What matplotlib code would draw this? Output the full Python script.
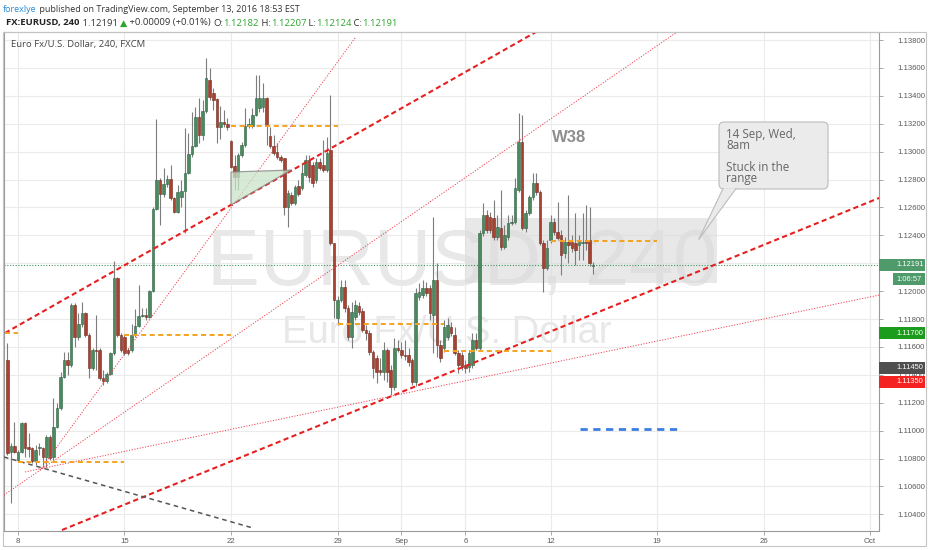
import matplotlib
matplotlib.use('Agg')
import matplotlib.pyplot as plt
from matplotlib.patches import Rectangle, Polygon, FancyBboxPatch
from matplotlib import transforms
import numpy as np

plt.rcParams['font.family'] = ['Open Sans', 'DejaVu Sans']

# ---------------- data (EURUSD 4h candles, Aug 8 - Sep 13 2016) ----------------
open_ = [1.11507, 1.10847, 1.10890, 1.10790, 1.10847, 1.11055, 1.10883, 1.10876, 1.10783, 1.10876,
         1.10876, 1.10811, 1.10955, 1.10811, 1.11026, 1.11162, 1.11385, 1.11507, 1.11471, 1.11901,
         1.11671, 1.11765, 1.11843, 1.11686, 1.11449, 1.11578, 1.11578, 1.11377, 1.11356, 1.11406,
         1.11557, 1.12094, 1.11686, 1.11671, 1.11578, 1.11578, 1.11686, 1.11750, 1.11822, 1.11829,
         1.11815, 1.12001, 1.12589, 1.12797, 1.12696, 1.12768, 1.12804, 1.12668, 1.12567, 1.12675,
         1.12718, 1.12847, 1.12983, 1.13040, 1.13248, 1.13119, 1.13291, 1.13514, 1.13420, 1.13377,
         1.13177, 1.13213, 1.13198, 1.13076, 1.12897, 1.12818, 1.12976, 1.13048, 1.13184, 1.13184,
         1.13263, 1.13313, 1.13320, 1.13385, 1.13112, 1.13040, 1.12998, 1.12962, 1.12954, 1.12603,
         1.12689, 1.12632, 1.12754, 1.12739, 1.12833, 1.12940, 1.12904, 1.12797, 1.12926, 1.12904,
         1.12868, 1.13011, 1.12345, 1.11808, 1.11937, 1.12030, 1.11879, 1.11671, 1.11815, 1.11894,
         1.11858, 1.11722, 1.11700, 1.11564, 1.11521, 1.11435, 1.11420, 1.11578, 1.11435, 1.11313,
         1.11592, 1.11578, 1.11542, 1.11542, 1.11507, 1.11349, 1.11958, 1.11972, 1.12023, 1.12023,
         1.11829, 1.12080, 1.11614, 1.11592, 1.11671, 1.11743, 1.11686, 1.11557, 1.11542, 1.11471,
         1.11456, 1.11471, 1.11650, 1.11592, 1.12417, 1.12546, 1.12532, 1.12524, 1.12388, 1.12453,
         1.12316, 1.12388, 1.12489, 1.12496, 1.12725, 1.13069, 1.12453, 1.12560, 1.12675, 1.12775,
         1.12711, 1.12345, 1.12166, 1.12367, 1.12496, 1.12424, 1.12403, 1.12274, 1.12352, 1.12352,
         1.12345, 1.12331, 1.12345, 1.12367, 1.12367, 1.12182]
high_ = [1.11628, 1.10912, 1.11062, 1.10861, 1.11062, 1.11062, 1.10983, 1.10883, 1.10897, 1.10912,
         1.10883, 1.10969, 1.10969, 1.11234, 1.11198, 1.11420, 1.11564, 1.11564, 1.11915, 1.11915,
         1.11843, 1.11922, 1.11851, 1.11700, 1.11592, 1.11829, 1.11592, 1.11435, 1.11420, 1.11564,
         1.12216, 1.12101, 1.11700, 1.11686, 1.11592, 1.11765, 1.11872, 1.12044, 1.11879, 1.11879,
         1.12008, 1.12603, 1.13234, 1.12811, 1.12883, 1.12833, 1.12904, 1.12675, 1.12761, 1.12797,
         1.13170, 1.13134, 1.13284, 1.13320, 1.13385, 1.13370, 1.13671, 1.13600, 1.13456, 1.13385,
         1.13327, 1.13299, 1.13241, 1.13084, 1.12976, 1.12990, 1.13069, 1.13313, 1.13241, 1.13313,
         1.13549, 1.13549, 1.13492, 1.13392, 1.13177, 1.13119, 1.13062, 1.12976, 1.12954, 1.12725,
         1.12711, 1.12761, 1.12797, 1.12919, 1.12976, 1.12976, 1.12926, 1.12954, 1.12954, 1.13084,
         1.13105, 1.13406, 1.12345, 1.11965, 1.12080, 1.12080, 1.11901, 1.11922, 1.11937, 1.11922,
         1.11879, 1.11757, 1.11722, 1.11578, 1.11542, 1.11521, 1.11635, 1.11592, 1.11471, 1.11664,
         1.11650, 1.11635, 1.11650, 1.11592, 1.11521, 1.12023, 1.12059, 1.12080, 1.12066, 1.12044,
         1.12532, 1.12202, 1.11650, 1.11793, 1.11808, 1.11779, 1.11743, 1.11578, 1.11564, 1.11507,
         1.11578, 1.11700, 1.11700, 1.12438, 1.12632, 1.12582, 1.12567, 1.12653, 1.12546, 1.12725,
         1.12474, 1.12546, 1.12546, 1.12811, 1.13277, 1.13263, 1.12582, 1.12689, 1.12847, 1.12847,
         1.12725, 1.12367, 1.12367, 1.12546, 1.12524, 1.12639, 1.12438, 1.12388, 1.12689, 1.12403,
         1.12560, 1.12403, 1.12560, 1.12618, 1.12603, 1.12207]
low_ = [1.10826, 1.10482, 1.10840, 1.10775, 1.10840, 1.10811, 1.10811, 1.10768, 1.10754, 1.10826,
        1.10740, 1.10740, 1.10790, 1.10790, 1.11019, 1.11148, 1.11377, 1.11399, 1.11456, 1.11600,
        1.11650, 1.11743, 1.11671, 1.11377, 1.11435, 1.11435, 1.11363, 1.11327, 1.11342, 1.11399,
        1.11542, 1.11671, 1.11564, 1.11542, 1.11542, 1.11564, 1.11671, 1.11743, 1.11815, 1.11793,
        1.11808, 1.11994, 1.12582, 1.12474, 1.12675, 1.12747, 1.12653, 1.12560, 1.12560, 1.12603,
        1.12417, 1.12840, 1.12962, 1.13033, 1.13062, 1.13084, 1.13277, 1.13370, 1.13299, 1.13062,
        1.13091, 1.13177, 1.13155, 1.12883, 1.12725, 1.12725, 1.12962, 1.13033, 1.13170, 1.13170,
        1.13256, 1.13284, 1.13284, 1.13048, 1.13026, 1.12976, 1.12947, 1.12926, 1.12546, 1.12460,
        1.12618, 1.12618, 1.12682, 1.12725, 1.12818, 1.12782, 1.12747, 1.12775, 1.12868, 1.12854,
        1.12854, 1.12331, 1.11808, 1.11757, 1.11922, 1.11851, 1.11650, 1.11592, 1.11793, 1.11829,
        1.11707, 1.11650, 1.11542, 1.11377, 1.11342, 1.11399, 1.11363, 1.11349, 1.11256, 1.11291,
        1.11564, 1.11521, 1.11507, 1.11464, 1.11327, 1.11320, 1.11937, 1.11951, 1.11965, 1.11793,
        1.11557, 1.11528, 1.11492, 1.11564, 1.11650, 1.11679, 1.11542, 1.11413, 1.11435, 1.11413,
        1.11420, 1.11449, 1.11578, 1.11578, 1.12395, 1.12417, 1.12417, 1.12367, 1.12367, 1.12295,
        1.12302, 1.12367, 1.12474, 1.12481, 1.12711, 1.12438, 1.12424, 1.12546, 1.12653, 1.12689,
        1.12331, 1.11994, 1.12152, 1.12345, 1.12403, 1.12367, 1.12116, 1.12238, 1.12202, 1.12281,
        1.12187, 1.12223, 1.12223, 1.12295, 1.12180, 1.12124]
close_ = [1.10840, 1.10890, 1.10847, 1.10847, 1.11055, 1.10876, 1.10869, 1.10783, 1.10861, 1.10878,
          1.10811, 1.10955, 1.10804, 1.11026, 1.11162, 1.11385, 1.11507, 1.11471, 1.11901, 1.11671,
          1.11765, 1.11843, 1.11686, 1.11449, 1.11578, 1.11571, 1.11377, 1.11356, 1.11406, 1.11557,
          1.12094, 1.11686, 1.11578, 1.11557, 1.11557, 1.11686, 1.11750, 1.11822, 1.11829, 1.11815,
          1.12001, 1.12589, 1.12797, 1.12696, 1.12768, 1.12804, 1.12668, 1.12567, 1.12711, 1.12718,
          1.12847, 1.12983, 1.13040, 1.13248, 1.13119, 1.13291, 1.13528, 1.13392, 1.13370, 1.13177,
          1.13213, 1.13198, 1.13177, 1.12890, 1.12818, 1.12976, 1.13048, 1.13184, 1.13198, 1.13263,
          1.13385, 1.13385, 1.13385, 1.13184, 1.13040, 1.12990, 1.12962, 1.12940, 1.12603, 1.12704,
          1.12632, 1.12747, 1.12696, 1.12847, 1.12940, 1.12818, 1.12775, 1.12926, 1.12883, 1.12868,
          1.12990, 1.12345, 1.11937, 1.11937, 1.12030, 1.11879, 1.11671, 1.11851, 1.11901, 1.11851,
          1.11722, 1.11700, 1.11564, 1.11449, 1.11420, 1.11420, 1.11578, 1.11420, 1.11313, 1.11592,
          1.11578, 1.11542, 1.11535, 1.11492, 1.11349, 1.11987, 1.11994, 1.12023, 1.11987, 1.11843,
          1.12080, 1.11614, 1.11521, 1.11743, 1.11757, 1.11700, 1.11557, 1.11471, 1.11456, 1.11449,
          1.11557, 1.11650, 1.11592, 1.12417, 1.12546, 1.12438, 1.12438, 1.12388, 1.12460, 1.12316,
          1.12403, 1.12489, 1.12496, 1.12739, 1.13069, 1.12453, 1.12560, 1.12675, 1.12775, 1.12711,
          1.12345, 1.12166, 1.12309, 1.12496, 1.12424, 1.12381, 1.12259, 1.12352, 1.12331, 1.12309,
          1.12295, 1.12352, 1.12352, 1.12345, 1.12202, 1.12191]

bars_per_day = 6
first_day_bar = 3            # bar index of Monday Aug 8 session start
tick_days = [0, 5, 10, 15, 18, 21, 25, 30, 35, 40]    # trading-day offsets
tick_labels = ['8', '15', '22', '29', 'Sep', '6', '12', '19', '26', 'Oct']
price_ticks = [1.104, 1.106, 1.108, 1.110, 1.112, 1.114, 1.116, 1.118, 1.120,
               1.122, 1.124, 1.126, 1.128, 1.130, 1.132, 1.134, 1.136, 1.138]

# drawings: (bar, price) endpoints
trend_upper = [(-0.65, 1.11700), (160.0, 1.14018)]
trend_lower = [(15.41, 1.10288), (245.55, 1.12668)]
fan_steep = [(9.21, 1.10718), (97.94, 1.13815)]
fan_mid = [(-0.93, 1.10539), (200.0, 1.14057)]
fan_low = [(4.99, 1.10704), (245.55, 1.11972)]
down_line = [(-0.93, 1.10811), (69.2, 1.10302)]
# weekly levels: (start trading day, end trading day, price)
weekly_levels = [(-0.61, 0, 1.11700), (0, 5, 1.10775), (5, 10, 1.11686), (10, 15, 1.13184),
                 (15, 20, 1.11765), (20, 25, 1.11571), (25, 30, 1.12360)]
target_level = (26.4, 31.1, 1.11010)
triangle = [(63.0, 1.12854), (79.9, 1.12868), (63.0, 1.12618)]
range_box = (128.9, 199.9, 1.12058, 1.12524)
last_price = 1.12191
countdown = '1:06:57'
badges = [(1.11700, '#1c9c1c'), (1.11450, '#4f4f4f'), (1.11350, '#f52222')]

# ---------------- figure ----------------
W, H = 932, 550
fig = plt.figure(figsize=(W / 100, H / 100), dpi=100)
fig.patch.set_facecolor('white')
T = transforms.Affine2D().scale(1 / W, -1 / H).translate(0, 1) + fig.transFigure

L, R, TOP, BOT = 4, 879, 32, 531
ax = fig.add_axes([L / W, (H - BOT) / H, (R - L) / W, (BOT - TOP) / H])
ax.set_facecolor('white')
ax.set_xlim(-0.93, 245.5)
ax.set_ylim(1.102808, 1.138576)

xt = [first_day_bar + bars_per_day * d for d in tick_days]
ax.set_xticks(xt)
ax.set_xticklabels(tick_labels)
ax.set_yticks(price_ticks)
# the tick label hidden behind the last-price badge is left empty
ax.set_yticklabels(['' if abs(p - last_price) < 0.0004 else '%.5f' % p for p in price_ticks])
ax.yaxis.tick_right()
ax.tick_params(axis='both', length=3, width=0.6, color='#9a9a9a', labelsize=5.6,
               labelcolor='#5a5a5a', pad=2)
ax.tick_params(axis='y', pad=10.5)
for lab in ax.get_xticklabels() + ax.get_yticklabels():
    lab.set_family(['Liberation Sans', 'DejaVu Sans'])
ax.grid(True, color='#ebebeb', lw=0.8, zorder=0)
ax.set_axisbelow(True)
for s in ax.spines.values():
    s.set_color('#9a9a9a')
    s.set_linewidth(0.8)

# watermark
ax.text(462, 285, 'EURUSD, 240', transform=T, ha='center', va='baseline', fontsize=57,
        color='#e8e8e8', family=['Liberation Sans'], zorder=0.6)
ax.text(447, 343, 'Euro Fx/U.S. Dollar', transform=T, ha='center', va='baseline', fontsize=27.5,
        color='#e8e8e8', family=['Liberation Sans'], zorder=0.6)

# grey range rectangle
ax.add_patch(Rectangle((range_box[0], range_box[2]), range_box[1] - range_box[0],
                       range_box[3] - range_box[2], facecolor='#d9d9d9', alpha=0.6,
                       edgecolor='none', zorder=1))

# candles
o = np.array(open_); h = np.array(high_); lo = np.array(low_); c = np.array(close_)
x = np.arange(len(o))
up = c >= o
ax.vlines(x, lo, h, color='#7d7d7d', lw=0.8, zorder=3)
body_bot = np.minimum(o, c)
body_h = np.maximum(np.abs(c - o), 0.00006)
ax.bar(x[up], body_h[up], bottom=body_bot[up], width=0.72, color='#4b8a5e',
       edgecolor='#2f6242', lw=0.4, zorder=3.5)
ax.bar(x[~up], body_h[~up], bottom=body_bot[~up], width=0.72, color='#a8412f',
       edgecolor='#702a1f', lw=0.4, zorder=3.5)

# last price line
ax.axhline(last_price, color='#3f9a5f', lw=0.8, ls=(0, (1, 1.5)), zorder=2)

# drawings
def seg(pts, **kw):
    ax.plot([pts[0][0], pts[1][0]], [pts[0][1], pts[1][1]], **kw)

seg(trend_upper, color='#e62020', lw=1.5, ls=(0, (2.5, 1.6)), zorder=4)
seg(trend_lower, color='#e62020', lw=1.5, ls=(0, (2.5, 1.6)), zorder=4)
for p in (fan_steep, fan_mid, fan_low):
    seg(p, color='#ee4050', lw=0.7, ls=(0, (1.2, 1.6)), zorder=4)
seg(down_line, color='#555555', lw=1.1, ls=(0, (3, 2.5)), zorder=4)
for d0, d1, p in weekly_levels:
    ax.plot([first_day_bar + bars_per_day * d0, first_day_bar + bars_per_day * d1], [p, p],
            color='#f5a31f', lw=1.4, ls=(0, (2.6, 1.8)), zorder=4)
ax.plot([first_day_bar + bars_per_day * target_level[0], first_day_bar + bars_per_day * target_level[1]],
        [target_level[2]] * 2, color='#3b7fe0', lw=2.0, ls=(0, (2.6, 2.0)), zorder=4)
ax.add_patch(Polygon(triangle, closed=True, facecolor='#c9e3c9', alpha=0.75,
                     edgecolor='#808080', lw=0.9, zorder=4))

# W38 label
ax.text(552, 142, 'W38', transform=T, fontsize=12, fontweight='bold', color='#8e8e8e',
        family=['Liberation Sans'], va='baseline', ha='left', zorder=5)

# callout
box = FancyBboxPatch((719, 122), 109, 67, boxstyle='round,pad=0,rounding_size=5',
                     transform=T, facecolor='#ebebeb', edgecolor='#bcbcbc', lw=0.8, zorder=6)
ax.add_patch(box)
box.set_clip_on(False)
tail = Polygon([(723, 188.4), (736, 188.4), (699, 239)], closed=True, transform=T,
               facecolor='#ebebeb', edgecolor='none', zorder=6.1)
ax.add_patch(tail)
tail.set_clip_on(False)
for xe in (723, 736):
    ln, = ax.plot([xe, 699], [188.6, 239], transform=T, color='#bcbcbc', lw=0.8, zorder=6.2)
    ln.set_clip_on(False)
ax.text(726, 128, '14 Sep, Wed,\n8am\n\nStuck in the\nrange', transform=T, fontsize=8.4,
        color='#666666', va='top', ha='left', linespacing=0.8, zorder=7)

# right axis badges
bt = transforms.blended_transform_factory(ax.transAxes, ax.transData)
xr = (925 - R) / (R - L)
tx = (896 - R) / (R - L)
hh = 6.0 / 13950
def badge(price, text, color, x0=1.0, x1=1.0 + xr):
    r = Rectangle((x0, price - hh), x1 - x0, 2 * hh, transform=bt, facecolor=color,
                  edgecolor='none', zorder=8)
    r.set_clip_on(False)
    ax.add_patch(r)
    ax.text(1.0 + tx, price, text, transform=bt, color='white', fontsize=5.4,
            ha='left', va='center', family=['Liberation Sans'], zorder=9, clip_on=False)

badge(last_price, '%.5f' % last_price, '#4e9a6b')
badge(last_price - 14.5 / 13950, countdown, '#4e9a6b', x0=1.0 + 14 / (R - L))
for p, col in badges:
    badge(p, '%.5f' % p, col)

# outer frame
fig.add_artist(Rectangle((3, 32), 923, 514, transform=T, fill=False, edgecolor='#c4c4c4', lw=0.8))

# header texts
renderer = fig.canvas.get_renderer()
def seq_text(pieces, x0, y, fs):
    xx = x0
    for s, col, wt in pieces:
        t = fig.text(xx, y, s, transform=T, color=col, fontweight=wt, fontsize=fs,
                     va='center', ha='left')
        xx += t.get_window_extent(renderer).width

green = '#2fa52f'
seq_text([('forexlye', '#2a8ad4', 'normal'),
          (' published on TradingView.com, September 13, 2016 18:53 EST', '#333333', 'normal')],
         3, 9, 6.5)
seq_text([('FX:EURUSD, 240', '#222222', 'bold'), (' 1.12191 ', '#333333', 'normal'),
          ('▲', green, 'normal'), (' +0.00009 (+0.01%) ', '#333333', 'normal'),
          ('O:', '#333333', 'normal'), ('1.12182', green, 'normal'),
          (' H:', '#333333', 'normal'), ('1.12207', green, 'normal'),
          (' L:', '#333333', 'normal'), ('1.12124', green, 'normal'),
          (' C:', '#333333', 'normal'), ('1.12191', green, 'normal')], 6, 23, 6.8)
fig.text(11, 45, 'Euro Fx/U.S. Dollar, 240, FXCM', transform=T, color='#444444',
         fontsize=6.8, va='center', ha='left')

fig.savefig('out.png', dpi=100, facecolor='white')
